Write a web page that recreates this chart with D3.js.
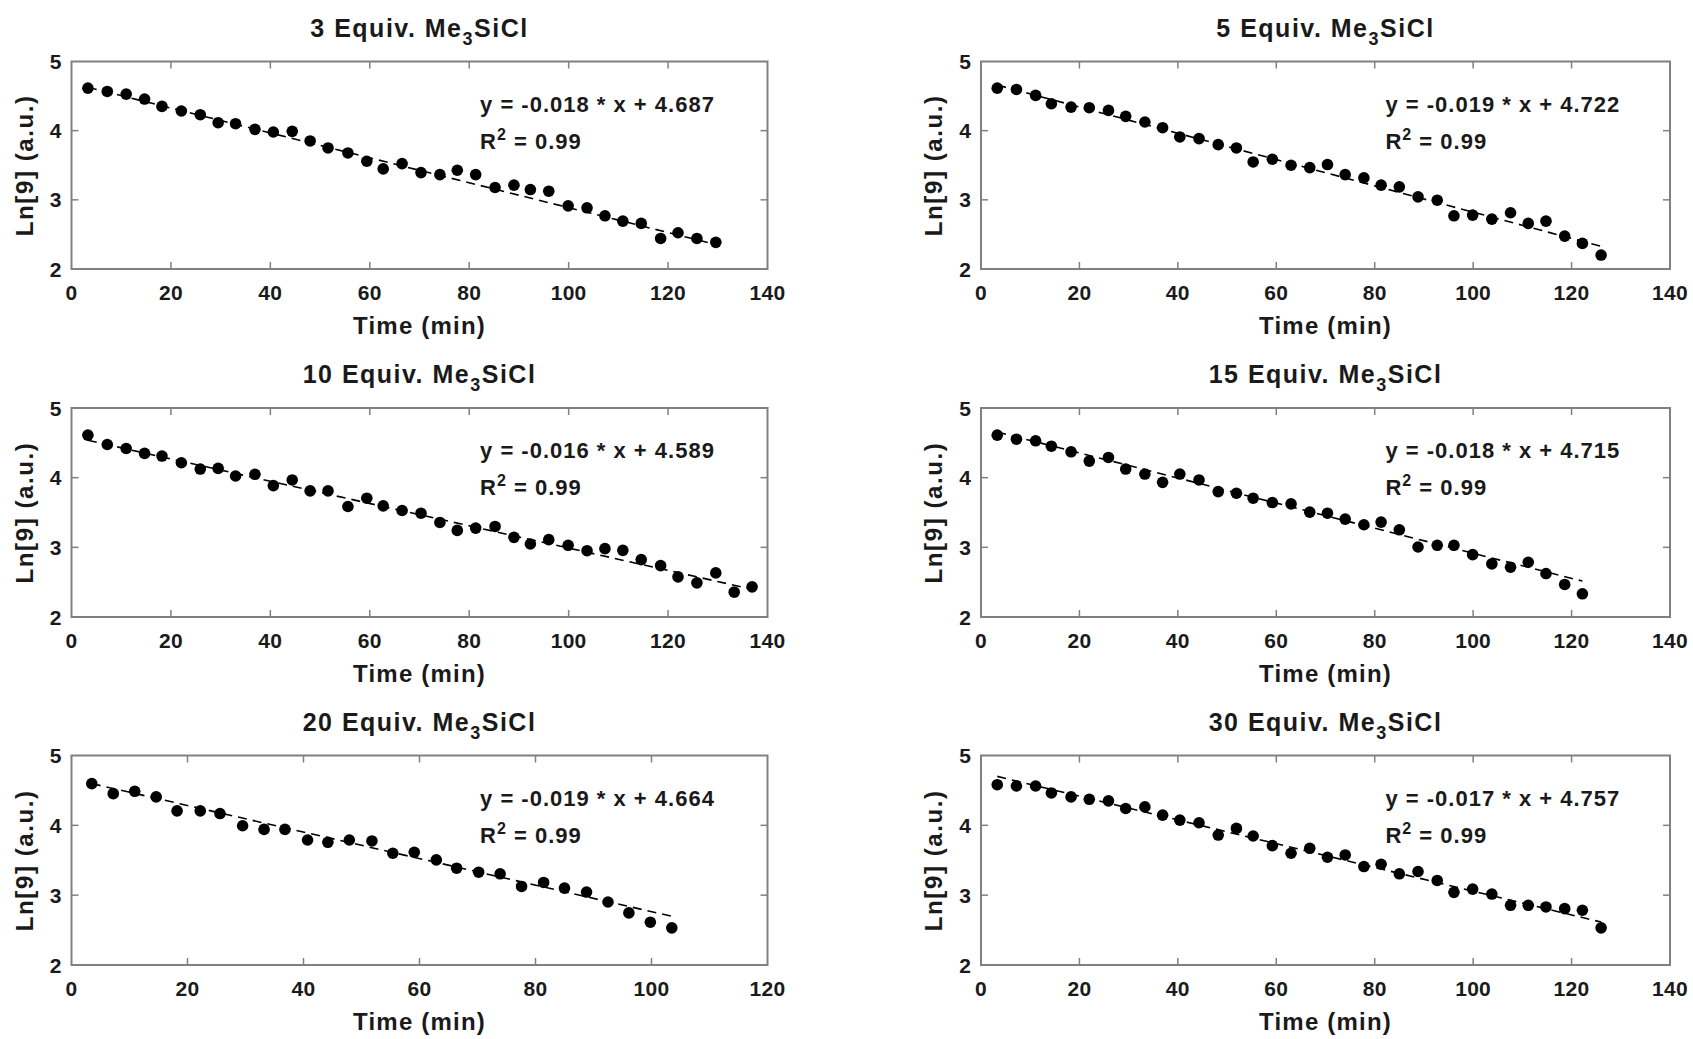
<!DOCTYPE html>
<html><head><meta charset="utf-8">
<script src="https://cdn.jsdelivr.net/npm/d3@7"></script>
<style>
body{margin:0;background:#fff;}
svg{display:block;}
text{font-family:"Liberation Sans",Arial,Helvetica,sans-serif;font-weight:bold;fill:#1a1a1a;}
</style>
</head><body>
<svg id="chart" width="1693" height="1039"></svg>
<script>
// ---------- data ----------
const equivLabels = ["3", "5", "10", "15", "20", "30"];

const time3  = [3.3,7.2,11.0,14.7,18.2,22.1,25.9,29.5,33.0,36.9,40.6,44.4,48.0,51.6,55.6,59.4,62.7,66.5,70.3,74.1,77.6,81.3,85.2,89.0,92.3,96.0,99.9,103.7,107.3,110.9,114.6,118.5,122.0,125.8,129.6];
const ln3    = [4.615,4.567,4.529,4.457,4.351,4.284,4.231,4.115,4.101,4.019,3.981,3.990,3.851,3.750,3.678,3.558,3.447,3.524,3.394,3.365,3.428,3.365,3.178,3.212,3.149,3.125,2.913,2.885,2.769,2.692,2.659,2.442,2.524,2.442,2.385];

const time5  = [3.3,7.2,11.1,14.3,18.3,22.0,25.9,29.4,33.3,36.9,40.4,44.3,48.2,51.9,55.3,59.2,63.0,66.8,70.4,74.0,77.8,81.3,85.0,88.8,92.7,96.1,99.9,103.8,107.6,111.2,114.8,118.6,122.2,126.0];
const ln5    = [4.615,4.596,4.510,4.389,4.341,4.332,4.293,4.207,4.125,4.043,3.909,3.885,3.798,3.750,3.548,3.587,3.500,3.466,3.510,3.365,3.317,3.212,3.188,3.043,2.995,2.769,2.779,2.721,2.813,2.659,2.692,2.476,2.370,2.202];

const time10 = [3.3,7.2,11.0,14.7,18.2,22.1,25.9,29.5,33.0,36.9,40.6,44.4,48.0,51.6,55.6,59.4,62.7,66.5,70.3,74.1,77.6,81.3,85.2,89.0,92.3,96.0,99.9,103.7,107.3,110.9,114.6,118.5,122.0,125.8,129.6,133.3,136.9];
const ln10   = [4.610,4.476,4.419,4.348,4.310,4.214,4.124,4.133,4.024,4.048,3.886,3.967,3.810,3.810,3.586,3.705,3.595,3.529,3.490,3.357,3.243,3.276,3.300,3.143,3.048,3.110,3.029,2.952,2.981,2.957,2.824,2.738,2.576,2.490,2.633,2.357,2.433];

const time15 = [3.3,7.2,11.1,14.3,18.3,22.0,25.9,29.4,33.3,36.9,40.4,44.3,48.2,51.9,55.3,59.2,63.0,66.8,70.4,74.0,77.8,81.3,85.0,88.8,92.7,96.1,99.9,103.8,107.6,111.2,114.8,118.6,122.2];
const ln15   = [4.610,4.552,4.529,4.452,4.371,4.238,4.290,4.124,4.052,3.933,4.052,3.967,3.800,3.776,3.705,3.643,3.624,3.505,3.490,3.405,3.324,3.362,3.252,3.005,3.029,3.029,2.895,2.762,2.714,2.786,2.624,2.467,2.333];

const time20 = [3.5,7.2,10.9,14.6,18.2,22.2,25.6,29.5,33.2,36.8,40.7,44.2,47.9,51.8,55.4,59.1,62.9,66.4,70.2,73.9,77.6,81.4,85.0,88.8,92.5,96.1,99.8,103.5];
const ln20   = [4.597,4.454,4.487,4.407,4.207,4.207,4.169,3.994,3.942,3.942,3.790,3.757,3.790,3.776,3.600,3.614,3.505,3.386,3.329,3.306,3.125,3.182,3.101,3.045,2.902,2.746,2.613,2.532];

const time30 = [3.3,7.2,11.1,14.3,18.3,22.0,25.9,29.4,33.3,36.9,40.4,44.3,48.2,51.9,55.3,59.2,63.0,66.8,70.4,74.0,77.8,81.3,85.0,88.8,92.7,96.1,99.9,103.8,107.6,111.2,114.8,118.6,122.2,126.0];
const ln30   = [4.582,4.563,4.563,4.464,4.407,4.373,4.350,4.241,4.264,4.146,4.075,4.037,3.861,3.956,3.847,3.709,3.600,3.671,3.543,3.576,3.410,3.443,3.306,3.339,3.211,3.040,3.087,3.016,2.855,2.855,2.831,2.807,2.784,2.532];

const fitSlopes     = [-0.018, -0.019, -0.016, -0.018, -0.019, -0.017];
const fitIntercepts = [4.687, 4.722, 4.589, 4.715, 4.664, 4.757];
const rSquared      = ["0.99", "0.99", "0.99", "0.99", "0.99", "0.99"];
const xMaxes        = [140, 140, 140, 140, 120, 140];
const yTickValues   = [2, 3, 4, 5];
const xLabelText    = "Time (min)";
const yLabelText    = "Ln[9] (a.u.)";

const seriesTimes = [time3, time5, time10, time15, time20, time30];
const seriesLn    = [ln3, ln5, ln10, ln15, ln20, ln30];

// ---------- layout ----------
const colLeft  = [71.5, 981];
const colWidth = [696, 689];
const rowTop   = [61.5, 408, 755.5];
const rowHeight= [207.5, 209, 209.5];
const frameColor = "#808080";

const svg = d3.select("#chart");

equivLabels.forEach((eq, i) => {
  const col = i % 2, row = Math.floor(i / 2);
  const L = colLeft[col], W = colWidth[col], T = rowTop[row], H = rowHeight[row];
  const g = svg.append("g").attr("transform", `translate(${L},${T})`);

  const x = d3.scaleLinear().domain([0, xMaxes[i]]).range([0, W]);
  const y = d3.scaleLinear().domain([2, 5]).range([H, 0]);
  const xTicks = d3.range(0, xMaxes[i] + 1, 20);

  // frame
  g.append("rect").attr("x", 0).attr("y", 0).attr("width", W).attr("height", H)
    .attr("fill", "none").attr("stroke", frameColor).attr("stroke-width", 2);

  // inward ticks, all four sides
  const tl = 7;
  xTicks.slice(1, -1).forEach(v => {
    g.append("line").attr("x1", x(v)).attr("x2", x(v)).attr("y1", H).attr("y2", H - tl)
      .attr("stroke", frameColor).attr("stroke-width", 1.5);
    g.append("line").attr("x1", x(v)).attr("x2", x(v)).attr("y1", 0).attr("y2", tl)
      .attr("stroke", frameColor).attr("stroke-width", 1.5);
  });
  yTickValues.slice(1, -1).forEach(v => {
    g.append("line").attr("x1", 0).attr("x2", tl).attr("y1", y(v)).attr("y2", y(v))
      .attr("stroke", frameColor).attr("stroke-width", 1.5);
    g.append("line").attr("x1", W).attr("x2", W - tl).attr("y1", y(v)).attr("y2", y(v))
      .attr("stroke", frameColor).attr("stroke-width", 1.5);
  });

  // tick labels
  g.selectAll(".xt").data(xTicks).enter().append("text")
    .attr("x", d => x(d)).attr("y", H + 31).attr("text-anchor", "middle")
    .style("font-size", "21px").style("letter-spacing", "0.3px").text(d => d);
  g.selectAll(".yt").data(yTickValues).enter().append("text")
    .attr("x", -10).attr("y", d => y(d) + 7.5).attr("text-anchor", "end")
    .style("font-size", "21px").text(d => d);

  // axis labels
  g.append("text").attr("x", W / 2).attr("y", H + 65).attr("text-anchor", "middle")
    .style("font-size", "24px").style("letter-spacing", "1.2px").text(xLabelText);
  g.append("text").attr("transform", `translate(-39,${H / 2}) rotate(-90)`)
    .attr("text-anchor", "middle")
    .style("font-size", "24px").style("letter-spacing", "1.6px").text(yLabelText);

  // title
  const t = g.append("text").attr("x", W / 2).attr("y", -25).attr("text-anchor", "middle")
    .style("font-size", "25px").style("letter-spacing", "1.5px");
  t.append("tspan").text(eq + " Equiv. Me");
  t.append("tspan").attr("dy", 8).style("font-size", "18px").text("3");
  t.append("tspan").attr("dy", -8).text("SiCl");

  // fit line (dashed)
  const ts = seriesTimes[i];
  const x0 = d3.min(ts), x1 = d3.max(ts);
  const fit = t0 => fitSlopes[i] * t0 + fitIntercepts[i];
  g.append("line")
    .attr("x1", x(x0)).attr("y1", y(fit(x0)))
    .attr("x2", x(x1)).attr("y2", y(fit(x1)))
    .attr("stroke", "#000").attr("stroke-width", 1.6).attr("stroke-dasharray", "9,6");

  // points
  g.selectAll(".pt").data(ts.map((tv, k) => [tv, seriesLn[i][k]])).enter().append("circle")
    .attr("cx", d => x(d[0])).attr("cy", d => y(d[1])).attr("r", 5.8).attr("fill", "#000");

  // equation text
  const ex = W * 0.587;
  g.append("text").attr("x", ex).attr("y", 50).style("font-size", "22px").style("letter-spacing", "1px")
    .text(`y = ${fitSlopes[i].toFixed(3)} * x + ${fitIntercepts[i].toFixed(3)}`);
  const r = g.append("text").attr("x", ex).attr("y", 87).style("font-size", "22px").style("letter-spacing", "1px");
  r.append("tspan").text("R");
  r.append("tspan").attr("dy", -9).style("font-size", "16px").text("2");
  r.append("tspan").attr("dy", 9).text(" = " + rSquared[i]);
});
</script>
</body></html>
